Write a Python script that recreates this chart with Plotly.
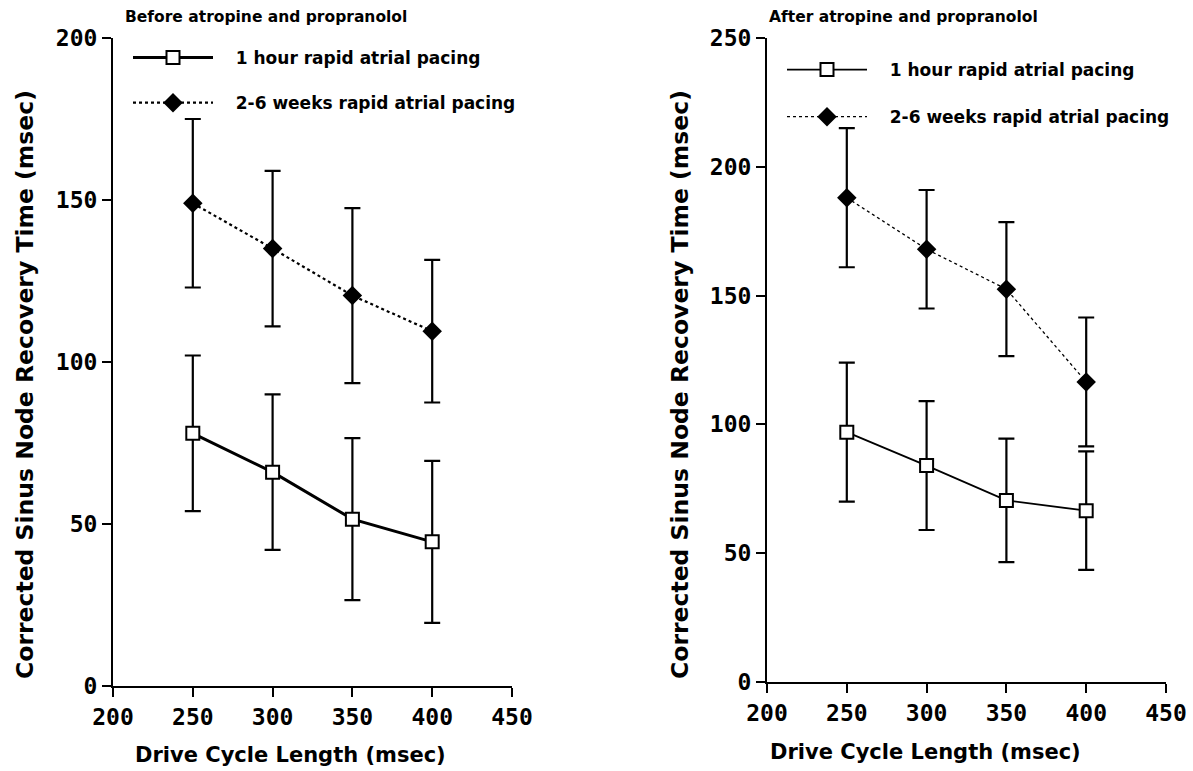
import plotly.graph_objects as go

drive_cycle = [250, 300, 350, 400]

hour_before = [78, 66, 51.5, 44.5]
hour_before_sd = [24, 24, 25, 25]
weeks_before = [149, 135, 120.5, 109.5]
weeks_before_sd = [26, 24, 27, 22]

hour_after = [97, 84, 70.5, 66.5]
hour_after_sd = [27, 25, 24, 23]
weeks_after = [188, 168, 152.5, 116.5]
weeks_after_sd = [27, 23, 26, 25]

series_names = ["1 hour rapid atrial pacing", "2-6 weeks rapid atrial pacing"]
panel_titles = ["Before atropine and propranolol", "After atropine and propranolol"]
x_ticks = [200, 250, 300, 350, 400, 450]
y_ticks_left = [0, 50, 100, 150, 200]
y_ticks_right = [0, 50, 100, 150, 200, 250]
x_title = "Drive Cycle Length (msec)"
y_title = "Corrected Sinus Node Recovery Time (msec)"

W, H = 1193, 771
BOLD = "DejaVu Sans"
MONO = "DejaVu Sans Mono"
PAD = "\u00a0\u00a0\u00a0"

fig = go.Figure()

def add_pair(xa, ya, legend, hour, hour_sd, weeks, weeks_sd, lw_hour, lw_weeks):
    fig.add_trace(go.Scatter(
        x=drive_cycle, y=weeks, name=PAD + series_names[1], xaxis=xa, yaxis=ya,
        mode="lines+markers", legend=legend, legendrank=2, legendgroup="b" + legend,
        line=dict(color="black", width=lw_weeks, dash="dot"),
        marker=dict(symbol="diamond", size=15, color="black", line=dict(width=0)),
        error_y=dict(type="data", array=weeks_sd, color="black", thickness=2.2, width=8),
    ))
    fig.add_trace(go.Scatter(
        x=drive_cycle, y=hour, name=PAD + series_names[0], xaxis=xa, yaxis=ya,
        mode="lines+markers", legend=legend, legendrank=1, legendgroup="a" + legend,
        line=dict(color="black", width=lw_hour),
        marker=dict(symbol="square", size=13, color="white", line=dict(color="black", width=2)),
        error_y=dict(type="data", array=hour_sd, color="black", thickness=2.2, width=8),
    ))

add_pair("x", "y", "legend", hour_before, hour_before_sd, weeks_before, weeks_before_sd, 3, 2.2)
add_pair("x2", "y2", "legend2", hour_after, hour_after_sd, weeks_after, weeks_after_sd, 1.8, 1.3)

def px_x(p):
    return p / W

def px_y(p):
    return 1 - p / H

axis_common = dict(
    showgrid=False, zeroline=False, showline=True, linecolor="black", linewidth=2,
    ticks="outside", ticklen=9, tickwidth=2, tickcolor="black", automargin=False,
    tickfont=dict(family=MONO, size=23, color="black", weight="bold"),
)

legend_font = dict(family=BOLD, size=17, color="black", weight="bold")

fig.update_layout(
    template="none",
    width=W, height=H,
    margin=dict(l=0, r=0, t=0, b=0, autoexpand=False),
    paper_bgcolor="white", plot_bgcolor="white",
    xaxis=dict(domain=[px_x(113), px_x(512)], range=[200, 450], tickvals=x_ticks,
               anchor="y", **axis_common),
    yaxis=dict(domain=[px_y(686), px_y(38)], range=[0, 200], tickvals=y_ticks_left,
               anchor="x", **axis_common),
    xaxis2=dict(domain=[px_x(767), px_x(1166)], range=[200, 450], tickvals=x_ticks,
                anchor="y2", **axis_common),
    yaxis2=dict(domain=[px_y(682), px_y(38)], range=[0, 250], tickvals=y_ticks_right,
                anchor="x2", **axis_common),
    legend=dict(x=px_x(128), y=px_y(40), xanchor="left", yanchor="top",
                bgcolor="rgba(0,0,0,0)", borderwidth=0, itemwidth=80, traceorder="grouped",
                tracegroupgap=20, font=legend_font),
    legend2=dict(x=px_x(782), y=px_y(52), xanchor="left", yanchor="top",
                 bgcolor="rgba(0,0,0,0)", borderwidth=0, itemwidth=80, traceorder="grouped",
                 tracegroupgap=22, font=legend_font),
    showlegend=True,
)

annotations = [
    dict(text=panel_titles[0], x=px_x(123), y=px_y(17), xanchor="left", yanchor="middle"),
    dict(text=panel_titles[1], x=px_x(767), y=px_y(17), xanchor="left", yanchor="middle"),
]
for a in annotations:
    a.update(xref="paper", yref="paper", showarrow=False,
             font=dict(family=BOLD, size=15.5, color="black", weight="bold"))

for cx, cy in [(290, 755), (925, 752)]:
    annotations.append(dict(text=x_title, x=px_x(cx), y=px_y(cy), xref="paper", yref="paper",
                            showarrow=False, xanchor="center", yanchor="middle",
                            font=dict(family=BOLD, size=21, color="black", weight="bold")))
for cx, cy in [(25, 385), (680, 385)]:
    annotations.append(dict(text=y_title, x=px_x(cx), y=px_y(cy), xref="paper", yref="paper",
                            showarrow=False, xanchor="center", yanchor="middle", textangle=-90,
                            font=dict(family=BOLD, size=23.5, color="black", weight="bold")))
fig.update_layout(annotations=annotations)

fig.write_html("out.html")
